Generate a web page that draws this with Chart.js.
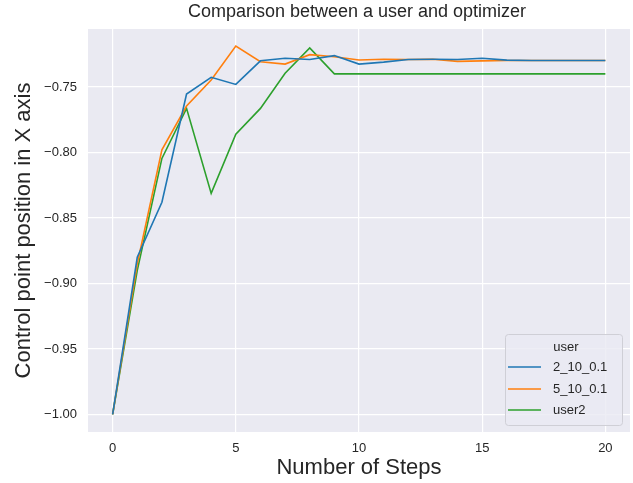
<!DOCTYPE html>
<html>
<head>
<meta charset="utf-8">
<script src="https://cdn.jsdelivr.net/npm/chart.js@4/dist/chart.umd.min.js"></script>
<style>
  html, body { margin: 0; padding: 0; background: #fff; }
  #wrap { width: 633px; height: 483px; }
</style>
</head>
<body>
<div id="wrap"><canvas id="chart" width="633" height="483"></canvas></div>
<script>
const steps = [0, 1, 2, 3, 4, 5, 6, 7, 8, 9, 10, 11, 12, 13, 14, 15, 16, 17, 18, 19, 20];

const run2 = [-1.0, -0.88, -0.838, -0.7553, -0.7426, -0.748, -0.730, -0.728, -0.729, -0.726, -0.7325,
  -0.731, -0.729, -0.7288, -0.729, -0.728, -0.7295, -0.7297, -0.7297, -0.7297, -0.7297];
const run5 = [-1.0, -0.885, -0.798, -0.7645, -0.7447, -0.7187, -0.7307, -0.7325, -0.7253, -0.7269, -0.7294,
  -0.7288, -0.729, -0.7288, -0.7304, -0.730, -0.7297, -0.7297, -0.7297, -0.7297, -0.7297];
const user2 = [-1.0, -0.89, -0.8045, -0.7663, -0.8312, -0.786, -0.7663, -0.7395, -0.7202, -0.740, -0.740,
  -0.740, -0.740, -0.740, -0.740, -0.740, -0.740, -0.740, -0.740, -0.740, -0.740];

const seriesNames = ['2_10_0.1', '5_10_0.1', 'user2'];
const xTicks = [0, 5, 10, 15, 20];
const yTicks = [-1.0, -0.95, -0.9, -0.85, -0.8, -0.75];

const colors = ['#1f77b4', '#ff7f0e', '#2ca02c'];
const textColor = '#262626';
const font = "Arial, 'Liberation Sans', sans-serif";

const toPoints = (ys) => steps.map((x, i) => ({ x, y: ys[i] }));

const makeSet = (label, ys, color) => ({
  label,
  data: toPoints(ys),
  borderColor: color,
  backgroundColor: color,
  borderWidth: 1.6,
  pointRadius: 0,
  tension: 0,
});

// title, axis labels and legend drawn by hand to sit where matplotlib put them
const decorations = {
  id: 'decorations',
  beforeDraw: (chart) => {
    const { ctx, chartArea } = chart;
    ctx.save();
    ctx.fillStyle = '#EAEAF2';
    ctx.fillRect(chartArea.left, chartArea.top, chartArea.right - chartArea.left, chartArea.bottom - chartArea.top);
    ctx.restore();
  },
  afterDraw: (chart) => {
    const { ctx, chartArea } = chart;
    const mid = (chartArea.left + chartArea.right) / 2;
    ctx.save();
    ctx.fillStyle = textColor;
    ctx.textAlign = 'center';
    ctx.textBaseline = 'middle';

    ctx.font = `18px ${font}`;
    ctx.fillText('Comparison between a user and optimizer', 357, 12);

    ctx.font = `22px ${font}`;
    ctx.fillText('Number of Steps', mid, 468);

    ctx.save();
    ctx.translate(24, (chartArea.top + chartArea.bottom) / 2);
    ctx.rotate(-Math.PI / 2);
    ctx.fillText('Control point position in X axis', 0, 0);
    ctx.restore();

    // legend
    const box = { x: 505, y: 334, w: 117, h: 91 };
    ctx.fillStyle = 'rgba(234,234,242,0.8)';
    ctx.strokeStyle = '#cfcfd6';
    ctx.lineWidth = 1;
    ctx.beginPath();
    ctx.roundRect(box.x + 0.5, box.y + 0.5, box.w, box.h, 3);
    ctx.fill();
    ctx.stroke();

    ctx.fillStyle = textColor;
    ctx.font = `13px ${font}`;
    ctx.textAlign = 'center';
    ctx.fillText('user', 566, 347);
    ctx.textAlign = 'left';
    const rows = [367, 389, 410];
    chart.data.datasets.forEach((ds, i) => {
      ctx.strokeStyle = ds.borderColor;
      ctx.lineWidth = 1.6;
      ctx.beginPath();
      ctx.moveTo(508, rows[i]);
      ctx.lineTo(541, rows[i]);
      ctx.stroke();
      ctx.fillText(ds.label, 553, rows[i]);
    });
    ctx.restore();
  }
};

new Chart(document.getElementById('chart'), {
  type: 'line',
  data: {
    datasets: [
      makeSet(seriesNames[0], run2, colors[0]),
      makeSet(seriesNames[1], run5, colors[1]),
      makeSet(seriesNames[2], user2, colors[2]),
    ]
  },
  options: {
    responsive: false,
    animation: false,
    layout: { padding: { top: 29, right: 3, left: 0, bottom: 0 } },
    plugins: {
      legend: { display: false },
      title: { display: false },
      tooltip: { enabled: false },
    },
    scales: {
      x: {
        type: 'linear',
        min: -1,
        max: 21,
        afterBuildTicks: (scale) => { scale.ticks = xTicks.map((v) => ({ value: v })); },
        afterFit: (scale) => { scale.height = 51; },
        grid: { color: '#ffffff', lineWidth: 1.2, drawTicks: false },
        border: { display: false },
        ticks: {
          color: textColor,
          padding: 9,
          font: { family: font, size: 13 },
          callback: (v) => String(v),
        },
      },
      y: {
        type: 'linear',
        min: -1.0134,
        max: -0.7057,
        afterBuildTicks: (scale) => { scale.ticks = yTicks.map((v) => ({ value: v })); },
        afterFit: (scale) => { scale.width = 88; },
        grid: { color: '#ffffff', lineWidth: 1.2, drawTicks: false },
        border: { display: false },
        ticks: {
          color: textColor,
          padding: 11,
          font: { family: font, size: 13 },
          callback: (v) => '\u2212' + Math.abs(v).toFixed(2),
        },
      },
    },
  },
  plugins: [decorations],
});
</script>
</body>
</html>
